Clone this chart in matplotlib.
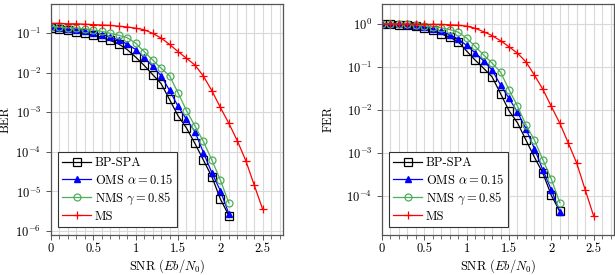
import numpy as np
import matplotlib
matplotlib.use('Agg')
import matplotlib.pyplot as plt
from matplotlib.ticker import LogLocator, MultipleLocator, NullLocator

plt.rcParams['font.family'] = 'serif'
plt.rcParams['font.serif'] = ['cmr10']
plt.rcParams['mathtext.fontset'] = 'cm'
plt.rcParams['axes.formatter.use_mathtext'] = True

# SNR grid
snr = [0.0, 0.1, 0.2, 0.3, 0.4, 0.5, 0.6, 0.7, 0.8, 0.9, 1.0,
       1.1, 1.2, 1.3, 1.4, 1.5, 1.6, 1.7, 1.8, 1.9, 2.0, 2.1]
snr_ms = snr + [2.2, 2.3, 2.4, 2.5]

# BER (log10 values)
ber_bp = [-0.87, -0.90, -0.93, -0.97, -1.01, -1.06, -1.11, -1.19, -1.28, -1.42, -1.61,
          -1.82, -2.05, -2.28, -2.68, -3.09, -3.40, -3.79, -4.21, -4.63, -5.19, -5.61]
ber_oms = [-0.86, -0.88, -0.91, -0.93, -0.96, -1.00, -1.04, -1.10, -1.18, -1.28, -1.42,
           -1.62, -1.84, -2.08, -2.45, -2.85, -3.18, -3.49, -4.02, -4.53, -4.98, -5.56]
ber_nms = [-0.84, -0.85, -0.87, -0.88, -0.90, -0.93, -0.96, -1.01, -1.06, -1.12, -1.26,
           -1.47, -1.68, -1.89, -2.08, -2.51, -2.96, -3.35, -3.74, -4.21, -4.71, -5.29]
ber_ms = [-0.76, -0.76, -0.77, -0.77, -0.78, -0.79, -0.80, -0.81, -0.83, -0.85, -0.88,
          -0.92, -1.01, -1.13, -1.29, -1.47, -1.64, -1.81, -2.09, -2.46, -2.88, -3.28,
          -3.72, -4.22, -4.84, -5.45]

# FER (log10 values)
fer_bp = [0.0, -0.01, -0.02, -0.02, -0.05, -0.10, -0.14, -0.23, -0.31, -0.41, -0.63,
          -0.84, -1.03, -1.23, -1.62, -2.02, -2.30, -2.70, -3.10, -3.47, -3.99, -4.36]
fer_oms = [0.0, -0.01, -0.01, -0.02, -0.04, -0.07, -0.11, -0.17, -0.25, -0.35, -0.50,
           -0.67, -0.86, -1.07, -1.42, -1.73, -2.05, -2.44, -2.90, -3.40, -3.86, -4.37]
fer_nms = [0.0, 0.0, -0.01, -0.01, -0.02, -0.04, -0.06, -0.09, -0.13, -0.19, -0.33,
           -0.52, -0.72, -0.91, -1.12, -1.53, -1.91, -2.35, -2.70, -3.16, -3.61, -4.16]
fer_ms = [0.0, 0.0, 0.0, 0.0, 0.0, -0.01, -0.01, -0.01, -0.02, -0.03, -0.05,
          -0.10, -0.18, -0.27, -0.39, -0.53, -0.68, -0.88, -1.19, -1.52, -1.92, -2.31,
          -2.77, -3.24, -3.86, -4.47]

labels = ['BP-SPA', r'OMS $\alpha = 0.15$', r'NMS $\gamma = 0.85$', 'MS']
green = '#4daf5a'
fs = 9

fig = plt.figure(figsize=(6.15, 2.75), dpi=100)
ax1 = fig.add_axes([51/615, 40/275, 232/615, 231/275])
ax2 = fig.add_axes([382/615, 40/275, 232/615, 231/275])


def draw(ax, bp, oms, nms, ms, ylabel, ylim, ylab_x):
    ax.plot(snr, 10**np.array(bp), color='black', lw=0.9, marker='s', ms=5.5,
            mfc='none', mec='black', mew=0.9, label=labels[0])
    ax.plot(snr, 10**np.array(oms), color='blue', lw=0.9, marker='^', ms=5,
            mfc='blue', mec='blue', label=labels[1])
    ax.plot(snr, 10**np.array(nms), color=green, lw=0.9, marker='o', ms=5,
            mfc='none', mec=green, mew=0.9, label=labels[2])
    ax.plot(snr_ms, 10**np.array(ms), color='red', lw=0.9, marker='+', ms=5.5,
            mew=0.9, label=labels[3])
    ax.set_yscale('log')
    ax.set_xlim(0, 2.74)
    ax.set_ylim(*ylim)
    ax.xaxis.set_minor_locator(MultipleLocator(0.1))
    ax.yaxis.set_major_locator(LogLocator(base=10, numticks=20))
    ax.yaxis.set_minor_locator(NullLocator())
    ax.set_xticks([0, 0.5, 1, 1.5, 2, 2.5])
    ax.set_xticklabels(['0', '0.5', '1', '1.5', '2', '2.5'])
    ax.grid(True, which='major', color='#d9d9d9', lw=0.8)
    ax.grid(True, which='minor', axis='x', color='#d9d9d9', lw=0.8)
    ax.set_axisbelow(True)
    ax.tick_params(which='both', direction='out', labelsize=fs, color='#555555',
                   top=False, right=False)
    ax.tick_params(which='major', length=3.5, width=0.7)
    ax.tick_params(which='minor', length=3, width=0.6)
    ax.tick_params(axis='x', pad=2.5)
    for s in ax.spines.values():
        s.set_color('#555555')
        s.set_linewidth(0.9)
    ax.set_xlabel(r'SNR $(Eb/N_0)$', fontsize=fs)
    ax.xaxis.set_label_coords(0.5, -0.097)
    ax.set_ylabel(ylabel, fontsize=fs)
    ax.yaxis.set_label_coords(ylab_x, 0.5)
    leg = ax.legend(loc='lower left', bbox_to_anchor=(0.03, 0.035), borderaxespad=0,
                    fontsize=fs, fancybox=False, edgecolor='#333333', framealpha=1,
                    handlelength=2.3, handletextpad=0.3, labelspacing=0.3,
                    borderpad=0.35)
    leg.get_frame().set_linewidth(0.8)


draw(ax1, ber_bp, ber_oms, ber_nms, ber_ms, 'BER', (10**-6.1, 10**-0.27), -0.17)
draw(ax2, fer_bp, fer_oms, fer_nms, fer_ms, 'FER', (10**-4.91, 10**0.465), -0.205)

fig.savefig('out.png', dpi=100)
